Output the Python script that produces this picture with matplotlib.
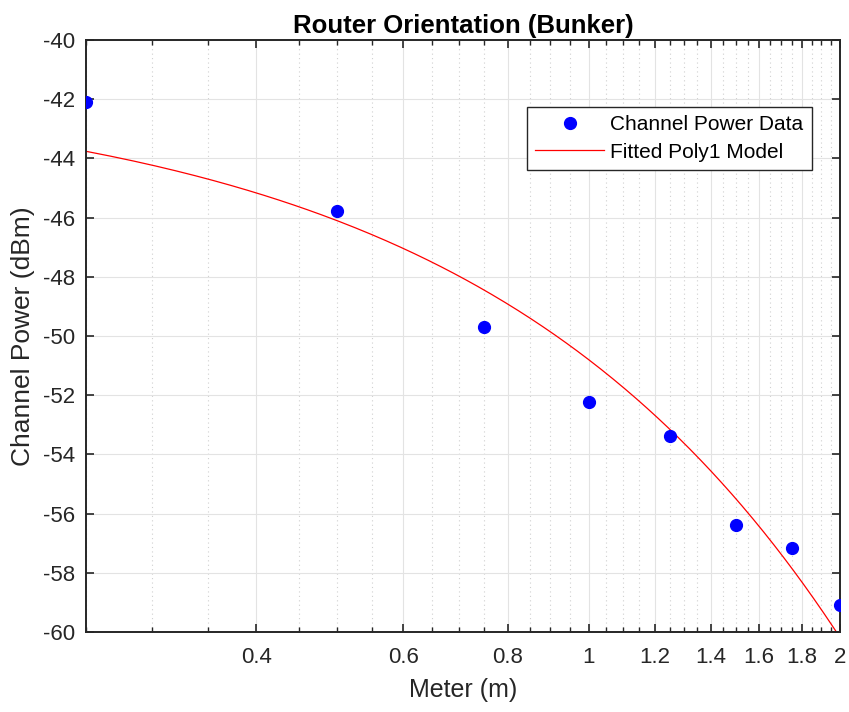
import matplotlib
matplotlib.use("Agg")
import matplotlib.pyplot as plt
import numpy as np
from matplotlib.ticker import FixedLocator, FixedFormatter, NullFormatter

plt.rcParams['font.family'] = ['Liberation Sans', 'DejaVu Sans']
plt.rcParams['axes.unicode_minus'] = False

# measured channel power vs distance
meters = np.array([0.25, 0.5, 0.75, 1.0, 1.25, 1.5, 1.75, 2.0])
power = np.array([-42.08, -45.78, -49.70, -52.22, -53.37, -56.40, -57.15, -59.08])

major_ticks = [0.4, 0.6, 0.8, 1, 1.2, 1.4, 1.6, 1.8, 2]
major_labels = ['0.4', '0.6', '0.8', '1', '1.2', '1.4', '1.6', '1.8', '2']
y_ticks = list(range(-60, -39, 2))

# poly1 fit of the data
coef = np.polyfit(meters, power, 1)
xfit = np.linspace(0.25, 2.0, 300)
yfit = np.polyval(coef, xfit)

dark = '#262626'
fig = plt.figure(figsize=(8.49, 7.12), dpi=100)
ax = fig.add_axes([0.1013, 0.1124, 0.8881, 0.8314])

ax.plot(meters, power, 'o', color='#0000ff', markersize=8.5, label='Channel Power Data', zorder=3)
ax.plot(xfit, yfit, '-', color='#ff0000', lw=0.9, label='Fitted Poly1 Model', zorder=2)

ax.set_xscale('log')
ax.set_xlim(0.25, 2.0)
ax.set_ylim(-60, -40)

minor = [round(v, 2) for v in np.arange(0.25, 2.0001, 0.05) if round(v, 2) not in [round(m, 2) for m in major_ticks]]
ax.xaxis.set_major_locator(FixedLocator(major_ticks))
ax.xaxis.set_major_formatter(FixedFormatter(major_labels))
ax.xaxis.set_minor_locator(FixedLocator(minor))
ax.xaxis.set_minor_formatter(NullFormatter())
ax.set_yticks(y_ticks)

ax.grid(True, which='major', color='#e3e3e3', lw=0.8)
ax.grid(True, which='minor', axis='x', color='#d0d0d0', lw=0.8, linestyle=(0, (1, 3)))
ax.set_axisbelow(True)

ax.tick_params(which='both', direction='in', top=True, right=True, colors=dark, labelsize=16)
ax.tick_params(which='major', length=6, width=1.2)
ax.tick_params(which='minor', length=3.5, width=1.0)
ax.tick_params(axis='x', which='major', pad=11)
ax.tick_params(axis='y', which='major', pad=8)
for s in ax.spines.values():
    s.set_color(dark)
    s.set_linewidth(1.4)

ax.set_xlabel('Meter (m)', fontsize=18, color=dark)
ax.set_ylabel('Channel Power (dBm)', fontsize=19, color=dark)
ax.xaxis.set_label_coords(0.5, -0.078)
ax.yaxis.set_label_coords(-0.067, 0.5)
ax.set_title('Router Orientation (Bunker)', fontsize=18.5, fontweight='bold', color='black', pad=5)

leg = ax.legend(loc='upper right', bbox_to_anchor=(0.9626, 0.8868), borderaxespad=0,
                fontsize=15, fancybox=False, framealpha=1, edgecolor=dark,
                handlelength=3.3, borderpad=0.4, labelspacing=0.4, handletextpad=0.3)
leg.get_frame().set_linewidth(1.0)

fig.savefig('out.png', dpi=100)
